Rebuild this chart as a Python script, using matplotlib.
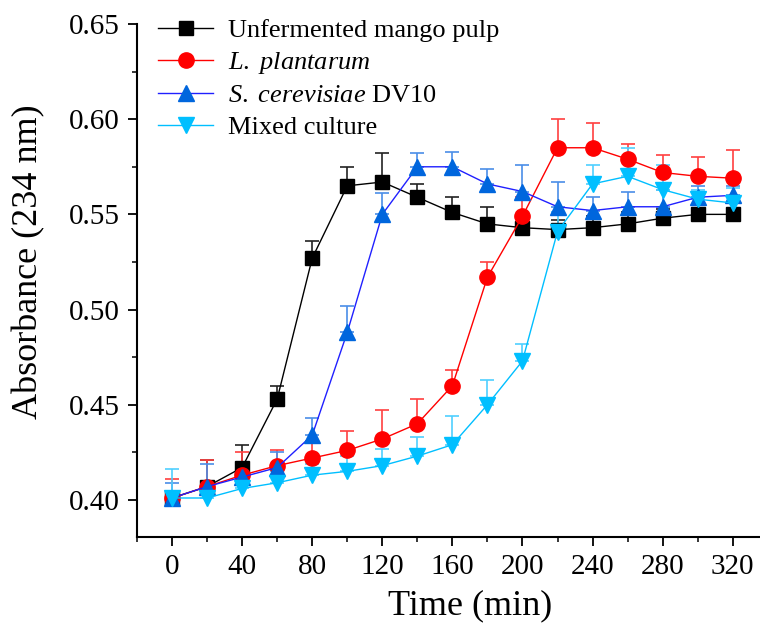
import numpy as np
import matplotlib
matplotlib.use("Agg")
import matplotlib.pyplot as plt
from matplotlib.ticker import MultipleLocator, FixedLocator

plt.rcParams['font.family'] = ['Liberation Serif', 'DejaVu Serif']
plt.rcParams['mathtext.fontset'] = 'custom'
plt.rcParams['mathtext.it'] = 'Liberation Serif:italic'
plt.rcParams['mathtext.rm'] = 'Liberation Serif'

# time points (min)
time = [0, 20, 40, 60, 80, 100, 120, 140, 160, 180, 200, 220, 240, 260, 280, 300, 320]
xticks = [0, 40, 80, 120, 160, 200, 240, 280, 320]

# Unfermented mango pulp
unf = [0.401, 0.407, 0.417, 0.453, 0.527, 0.565, 0.567, 0.559, 0.551, 0.545, 0.543,
       0.542, 0.543, 0.545, 0.548, 0.550, 0.550]
unf_err = [0.003, 0.014, 0.012, 0.007, 0.009, 0.010, 0.015, 0.007, 0.008, 0.009, 0.007,
           0.005, 0.006, 0.006, 0.005, 0.005, 0.006]

# L. plantarum
lp = [0.401, 0.407, 0.413, 0.418, 0.422, 0.426, 0.432, 0.440, 0.460, 0.517, 0.549,
      0.585, 0.585, 0.579, 0.572, 0.570, 0.569]
lp_err = [0.010, 0.014, 0.012, 0.008, 0.009, 0.010, 0.015, 0.013, 0.008, 0.008, 0.010,
          0.015, 0.013, 0.008, 0.009, 0.010, 0.015]

# S. cerevisiae DV10
sc = [0.401, 0.407, 0.412, 0.417, 0.434, 0.488, 0.550, 0.575, 0.575, 0.566, 0.562,
      0.554, 0.552, 0.554, 0.554, 0.559, 0.560]
sc_err = [0.008, 0.012, 0.007, 0.008, 0.009, 0.014, 0.011, 0.007, 0.008, 0.008, 0.014,
          0.013, 0.007, 0.008, 0.009, 0.006, 0.005]

# Mixed culture
mix = [0.401, 0.401, 0.406, 0.409, 0.413, 0.415, 0.418, 0.423, 0.429, 0.450, 0.473,
       0.541, 0.566, 0.570, 0.563, 0.558, 0.556]
mix_err = [0.015, 0.007, 0.006, 0.006, 0.006, 0.008, 0.009, 0.010, 0.015, 0.013, 0.009,
           0.010, 0.010, 0.015, 0.013, 0.005, 0.008]

fig = plt.figure(figsize=(7.6, 6.24), dpi=100)
# axis runs on past the right edge of the picture (cropped like the original)
ax = fig.add_axes([0.1803, 0.1394, 0.876, 0.8221])

series = [
    (unf, unf_err, 's', 'black', 'black', '#222222', 10, 'Unfermented mango pulp'),
    (lp, lp_err, 'o', 'red', 'red', '#ff4040', 11, r'$\it{L.\ plantarum}$'),
    (sc, sc_err, '^', '#0066dd', '#2020ff', '#4a8ee8', 12, r'$\it{S.\ cerevisiae}$ DV10'),
    (mix, mix_err, 'v', '#00bfff', '#00bfff', '#4fcfff', 12, 'Mixed culture'),
]

for y, e, mk, mc, lc, ec, ms, lab in series:
    lower = np.zeros(len(e))
    ax.errorbar(time, y, yerr=[lower, e], fmt='none', ecolor=ec, elinewidth=1.2,
                capsize=5, capthick=1.2, zorder=2)
    ax.plot(time, y, color=lc, linewidth=1.0, marker=mk, markersize=ms,
            markerfacecolor=mc, markeredgecolor=mc, label=lab, zorder=3)

ax.set_xlim(-20, 360)
ax.set_ylim(0.3805, 0.65)
ax.xaxis.set_major_locator(FixedLocator(xticks))
ax.xaxis.set_minor_locator(FixedLocator([t - 20 for t in xticks] + [340]))
ax.yaxis.set_major_locator(MultipleLocator(0.05))
ax.yaxis.set_minor_locator(MultipleLocator(0.025))
ax.yaxis.set_major_formatter(matplotlib.ticker.FormatStrFormatter('%.2f'))

for s in ['top', 'right']:
    ax.spines[s].set_visible(False)
for s in ['left', 'bottom']:
    ax.spines[s].set_linewidth(1.5)

ax.tick_params(which='major', direction='out', length=6.5, width=1.3, labelsize=21)
ax.tick_params(axis='y', which='major', pad=6)
ax.tick_params(axis='x', which='major', pad=6)
ax.tick_params(which='minor', direction='out', length=3.5, width=1.1)

ax.set_xlabel('Time (min)', fontsize=26, labelpad=6.5)
ax.set_ylabel('Absorbance (234 nm)', fontsize=26)
ax.yaxis.set_label_coords(-0.138, 0.536)

ax.legend(loc='upper left', bbox_to_anchor=(0.194, 0.987), bbox_transform=fig.transFigure,
          frameon=False, fontsize=19, handlelength=2.1, handletextpad=0.55,
          labelspacing=0.3, borderaxespad=0)

fig.savefig('out.png', dpi=100)
